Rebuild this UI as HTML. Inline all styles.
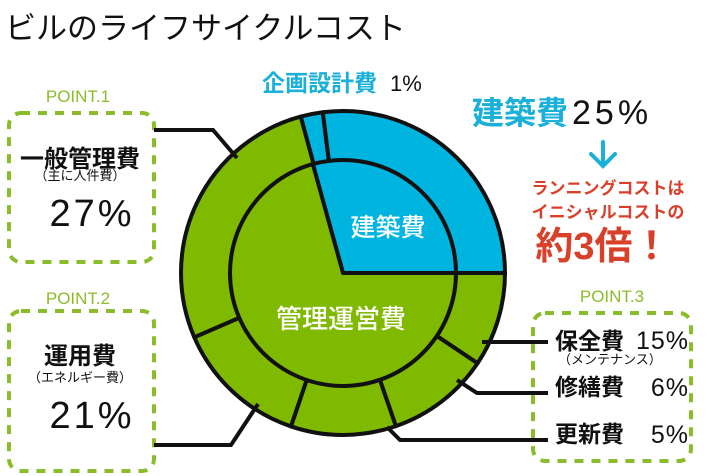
<!DOCTYPE html>
<html><head><meta charset="utf-8">
<style>
html,body{margin:0;padding:0;background:#fff;}
body{width:720px;height:476px;overflow:hidden;position:relative;font-family:"Liberation Sans","Noto Sans CJK JP",sans-serif;}
svg{position:absolute;left:0;top:0;}
text{font-family:"Liberation Sans","Noto Sans CJK JP",sans-serif;}
</style></head>
<body>
<svg id="chart" width="720" height="476" viewBox="0 0 720 476">
  <text x="5" y="39" font-size="31" font-weight="400" fill="#111">ビルのライフサイクルコスト</text>

  <text x="78" y="102" font-size="17" fill="#8bbd2a" text-anchor="middle">POINT.1</text>
  <rect x="9" y="113" width="145" height="149" rx="12" fill="none" stroke="#8bbd2a" stroke-width="4" stroke-dasharray="9,8"/>
  <text x="78" y="304" font-size="17" fill="#8bbd2a" text-anchor="middle">POINT.2</text>
  <rect x="9" y="311" width="145" height="160" rx="12" fill="none" stroke="#8bbd2a" stroke-width="4" stroke-dasharray="9,8"/>
  <text x="612" y="302" font-size="17" fill="#8bbd2a" text-anchor="middle">POINT.3</text>
  <rect x="533" y="313" width="158" height="148" rx="12" fill="none" stroke="#8bbd2a" stroke-width="4" stroke-dasharray="9,8"/>

  <g id="pie"></g>

  <g fill="none" stroke="#111" stroke-width="4">
    <polyline points="154,130 213,130 237,158"/>
    <polyline points="154,445 231,445 258,404"/>
    <polyline points="482,342 548,342"/>
    <polyline points="457,380 477,393 548,393"/>
    <polyline points="387,427 400,440 548,440"/>
  </g>

  <text x="80" y="167" font-size="24" font-weight="bold" fill="#111" text-anchor="middle">一般管理費</text>
  <text x="80" y="180" font-size="13" fill="#111" text-anchor="middle">（主に人件費）</text>
  <text x="92" y="226" font-size="38" fill="#111" text-anchor="middle" letter-spacing="3">27%</text>
  <text x="80" y="364" font-size="24" font-weight="bold" fill="#111" text-anchor="middle">運用費</text>
  <text x="80" y="382" font-size="13" fill="#111" text-anchor="middle">（エネルギー費）</text>
  <text x="92" y="428" font-size="38" fill="#111" text-anchor="middle" letter-spacing="3">21%</text>

  <text x="555" y="349" font-size="23" font-weight="bold" fill="#111">保全費</text>
  <text x="689" y="349" font-size="25" fill="#111" text-anchor="end" letter-spacing="1">15%</text>
  <text x="558" y="364" font-size="13" fill="#111">（メンテナンス）</text>
  <text x="555" y="395" font-size="23" font-weight="bold" fill="#111">修繕費</text>
  <text x="689" y="396" font-size="25" fill="#111" text-anchor="end" letter-spacing="1">6%</text>
  <text x="555" y="442" font-size="23" font-weight="bold" fill="#111">更新費</text>
  <text x="689" y="443" font-size="25" fill="#111" text-anchor="end" letter-spacing="1">5%</text>

  <text x="262" y="91" font-size="23" font-weight="bold" fill="#1ab0d8">企画設計費</text>
  <text x="390" y="91" font-size="22" fill="#111">1%</text>
  <text x="472" y="124" font-size="32" font-weight="bold" fill="#1ab0d8">建築費</text>
  <text x="572" y="124" font-size="34" fill="#111" letter-spacing="4">25%</text>
  <g stroke="#1ab0d8" stroke-width="4" stroke-linecap="round" fill="none">
    <line x1="603" y1="142" x2="603" y2="164"/>
    <polyline points="591,154 603,166 615,154"/>
  </g>
  <text x="608" y="194" font-size="17" font-weight="bold" fill="#d9402a" text-anchor="middle">ランニングコストは</text>
  <text x="608" y="218" font-size="17" font-weight="bold" fill="#d9402a" text-anchor="middle">イニシャルコストの</text>
  <text x="603" y="259" font-size="38" font-weight="bold" fill="#d9402a" text-anchor="middle">約3倍！</text>
</svg>
<script>
const outerNames = ['construction','planning','general','energy','update','repair','maintenance'];
const outerValues = [25, 1, 27, 21, 5, 6, 15];
const outerShares = [27, 2.2, 27.3, 13.3, 10.5, 10.3, 9.4];
const innerNames = ['construction-total','management-total'];
const innerShares = [29.3, 70.7];
const outerColors = ['#00b4e0','#00b4e0','#7fba00','#7fba00','#7fba00','#7fba00','#7fba00'];
const innerColors = ['#00b4e0','#7fba00'];

const cx=343, cy=273, R=162, r=113;
const ns='http://www.w3.org/2000/svg';
const g=document.getElementById('pie');
function angleScale(cum,total){return -(cum/total)*2*Math.PI;}
function pt(a,rad){return [cx+rad*Math.cos(a), cy+rad*Math.sin(a)];}
function wedge(a0,a1,rad){
  const p0=pt(a0,rad),p1=pt(a1,rad);
  const large=Math.abs(a1-a0)>Math.PI?1:0;
  return `M${cx},${cy} L${p0[0]},${p0[1]} A${rad},${rad} 0 ${large} 0 ${p1[0]},${p1[1]} Z`;
}
function drawRing(shares,colors,names,rad,prefix){
  const total=shares.reduce((a,b)=>a+b,0);
  let cum=0;
  shares.forEach((s,i)=>{
    const a0=angleScale(cum,total), a1=angleScale(cum+s,total);
    cum+=s;
    const p=document.createElementNS(ns,'path');
    p.setAttribute('d',wedge(a0,a1,rad));
    p.setAttribute('fill',colors[i]);
    p.setAttribute('stroke','#111');
    p.setAttribute('stroke-width','4');
    p.setAttribute('stroke-linejoin','round');
    
    
    g.appendChild(p);
  });
}
drawRing(outerShares,outerColors,outerNames,R,'outer-slice');
drawRing(innerShares,innerColors,innerNames,r,'inner-slice');
const c1=document.createElementNS(ns,'text');
c1.setAttribute('x','388');c1.setAttribute('y','236');
c1.setAttribute('font-size','25');c1.setAttribute('font-weight','500');
c1.setAttribute('fill','#fff');c1.setAttribute('text-anchor','middle');


c1.textContent='建築費';g.appendChild(c1);
const c2=document.createElementNS(ns,'text');
c2.setAttribute('x','341');c2.setAttribute('y','328');
c2.setAttribute('font-size','26');c2.setAttribute('font-weight','500');
c2.setAttribute('fill','#fff');c2.setAttribute('text-anchor','middle');


c2.textContent='管理運営費';g.appendChild(c2);
</script>
</body></html>
